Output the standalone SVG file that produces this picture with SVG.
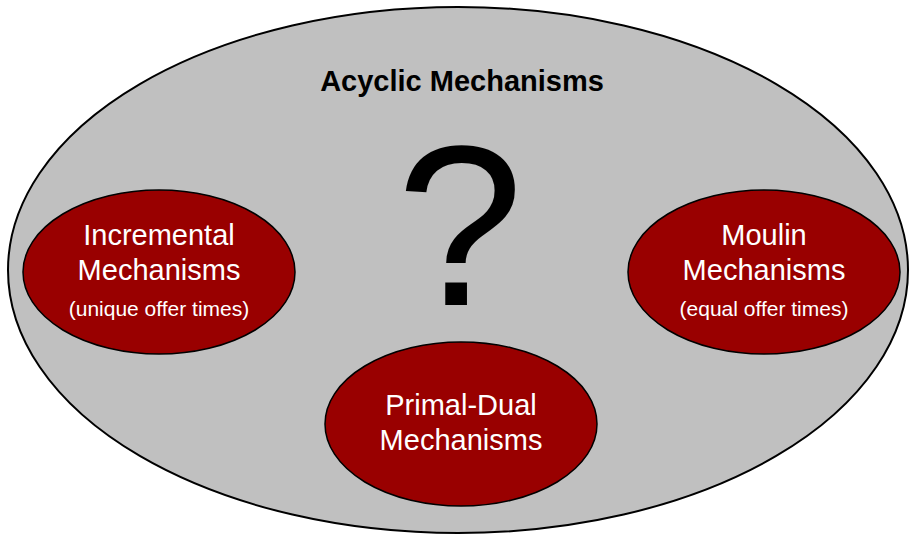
<svg xmlns="http://www.w3.org/2000/svg" width="912" height="535" viewBox="0 0 912 535">
<style>
.outer{fill:#c0c0c0;stroke:#000;stroke-width:2}
.node{fill:#990000;stroke:#000;stroke-width:1.5}
.t{font-family:"Liberation Sans",Arial,sans-serif;fill:#fff;text-anchor:middle}
.big{font-size:29px}
.small{font-size:21px}
</style>
<rect width="912" height="535" fill="#fff"/>
<g id="acyclic">
<ellipse class="outer" cx="458" cy="270" rx="450" ry="263"/>
<text x="462" y="91" font-family="Liberation Sans,Arial,sans-serif" font-size="29" font-weight="bold" text-anchor="middle" fill="#000">Acyclic Mechanisms</text>
<text x="460" y="305" font-family="Liberation Sans,Arial,sans-serif" font-size="228" text-anchor="middle" fill="#000">?</text>
</g>
<g id="incremental">
<ellipse class="node" cx="159" cy="272" rx="136" ry="82"/>
<text class="t big" x="159" y="245">Incremental</text>
<text class="t big" x="159" y="280">Mechanisms</text>
<text class="t small" x="159" y="316">(unique offer times)</text>
</g>
<g id="moulin">
<ellipse class="node" cx="764" cy="272" rx="136" ry="82"/>
<text class="t big" x="764" y="245">Moulin</text>
<text class="t big" x="764" y="280">Mechanisms</text>
<text class="t small" x="764" y="316">(equal offer times)</text>
</g>
<g id="primaldual">
<ellipse class="node" cx="461" cy="424" rx="136" ry="82"/>
<text class="t big" x="461" y="415">Primal-Dual</text>
<text class="t big" x="461" y="450">Mechanisms</text>
</g>
<g id="connectors"></g>
</svg>
